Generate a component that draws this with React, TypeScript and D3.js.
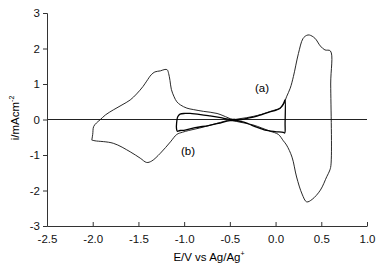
import React, { useEffect, useRef } from 'react';
import * as d3 from 'd3';

// curve (a): wide sweep, -2.0 V .. +0.6 V (closed loop, upper branch then lower)
const curveA_E = [
  -2.01, -2.0, -1.99, -1.96, -1.92, -1.86, -1.775, -1.68, -1.59, -1.52, -1.45, -1.41, -1.36, -1.32, -1.26, -1.21,
  -1.185, -1.17, -1.155, -1.14, -1.11, -1.08, -1.04, -0.97, -0.9, -0.79, -0.64, -0.52, -0.47,
  -0.4, -0.32, -0.24, -0.16, -0.1, -0.03, 0.02, 0.06, 0.09, 0.12, 0.16, 0.195, 0.25, 0.3, 0.34, 0.37,
  0.43, 0.49, 0.54, 0.6, 0.603, 0.605,
  0.59, 0.56, 0.49, 0.4, 0.34, 0.29, 0.23, 0.18, 0.12, 0.085, 0.03, -0.06, -0.15, -0.25, -0.4, -0.5,
  -0.6, -0.7, -0.83, -0.95, -1.02, -1.08, -1.15, -1.26, -1.355, -1.41, -1.48, -1.59, -1.775, -1.975, -2.01,
];
const curveA_I = [
  -0.58, -0.42, -0.2, -0.1, -0.01, 0.13, 0.27, 0.41, 0.55, 0.72, 0.93, 1.08, 1.26, 1.34, 1.37, 1.41,
  1.4, 1.3, 1.1, 0.85, 0.64, 0.5, 0.41, 0.32, 0.28, 0.23, 0.17, 0.05, 0.0,
  0.02, 0.05, 0.09, 0.14, 0.19, 0.25, 0.29, 0.34, 0.44, 0.64, 0.88, 1.21, 1.86, 2.28, 2.37, 2.38,
  2.29, 2.07, 1.96, 1.93, 1.0, -1.3,
  -1.45, -1.61, -1.99, -2.25, -2.32, -2.1, -1.62, -1.06, -0.72, -0.6, -0.42, -0.33, -0.24, -0.15, -0.07, -0.02,
  -0.08, -0.15, -0.24, -0.31, -0.36, -0.42, -0.63, -0.95, -1.17, -1.21, -1.09, -0.91, -0.67, -0.6, -0.58,
];

// curve (b): narrow sweep, -1.1 V .. +0.1 V
const curveB_E = [
  -1.085, -1.07, -1.045, -0.99, -0.935, -0.82, -0.717, -0.6, -0.516, -0.45, -0.37, -0.3, -0.224, -0.15, -0.078,
  0.013, 0.05, 0.085, 0.098, 0.104, 0.104,
  0.1, 0.085, -0.006, -0.115, -0.17, -0.224, -0.3, -0.37, -0.498, -0.626, -0.735, -0.88, -0.99, -1.045, -1.075, -1.085,
];
const curveB_I = [
  -0.2, 0.08, 0.15, 0.17, 0.17, 0.14, 0.1, 0.05, 0.01, 0.0, 0.0, 0.04, 0.08, 0.14, 0.2,
  0.27, 0.32, 0.44, 0.52, 0.55, -0.1,
  -0.38, -0.36, -0.34, -0.3, -0.25, -0.2, -0.12, -0.06, -0.03, -0.11, -0.17, -0.23, -0.3, -0.31, -0.33, -0.2,
];

const xTicks = [-2.5, -2.0, -1.5, -1.0, -0.5, 0.0, 0.5, 1.0];
const yTicks = [-3, -2, -1, 0, 1, 2, 3];

const FONT = '"Liberation Sans", Arial, sans-serif';

export default function App() {
  const ref = useRef<SVGSVGElement>(null);

  useEffect(() => {
    const svg = d3.select(ref.current);
    svg.selectAll('*').remove();

    const x = d3.scaleLinear().domain([-2.5, 1.0]).range([47, 367]);
    const y = d3.scaleLinear().domain([-3, 3]).range([226, 13]);

    // zero line across the plot
    svg.append('line')
      .attr('x1', x(-2.5)).attr('x2', x(1.0))
      .attr('y1', y(0)).attr('y2', y(0))
      .attr('stroke', '#222').attr('stroke-width', 1);

    const line = d3.line<[number, number]>()
      .x(d => x(d[0]))
      .y(d => y(d[1]))
      .curve(d3.curveCatmullRom.alpha(0.5));

    const ptsA = curveA_E.map((e, i) => [e, curveA_I[i]] as [number, number]);
    const ptsB = curveB_E.map((e, i) => [e, curveB_I[i]] as [number, number]);

    svg.append('path')
      .attr('d', line(ptsA))
      .attr('fill', 'none')
      .attr('stroke', '#111')
      .attr('stroke-width', 0.9);

    svg.append('path')
      .attr('d', line(ptsB))
      .attr('fill', 'none')
      .attr('stroke', '#000')
      .attr('stroke-width', 1.3);

    // axes
    const yAxis = d3.axisLeft(y)
      .tickValues(yTicks)
      .tickSize(4)
      .tickPadding(3)
      .tickFormat(d => String(d));
    const gy = svg.append('g').attr('transform', `translate(${x(-2.5)},0)`).call(yAxis);

    const xAxis = d3.axisBottom(x)
      .tickValues(xTicks)
      .tickSizeInner(-4)
      .tickSizeOuter(0)
      .tickPadding(9)
      .tickFormat(d => (d as number).toFixed(1));
    const gx = svg.append('g').attr('transform', `translate(0,${y(-3)})`).call(xAxis);

    [gx, gy].forEach(g => {
      g.select('.domain').attr('stroke', '#333');
      g.selectAll('.tick line').attr('stroke', '#333');
      g.selectAll('.tick text')
        .attr('fill', '#111')
        .style('font-family', FONT)
        .style('font-size', '11.5px');
    });

    // curve labels
    svg.append('text')
      .attr('x', 262).attr('y', 92)
      .attr('text-anchor', 'middle')
      .style('font-family', FONT).style('font-size', '11.5px')
      .text('(a)');
    svg.append('text')
      .attr('x', 188).attr('y', 155)
      .attr('text-anchor', 'middle')
      .style('font-family', FONT).style('font-size', '11.5px')
      .text('(b)');

    // x axis title
    const xt = svg.append('text')
      .attr('x', 209).attr('y', 261)
      .attr('text-anchor', 'middle')
      .style('font-family', FONT).style('font-size', '11.5px');
    xt.append('tspan').text('E/V vs Ag/Ag');
    xt.append('tspan').attr('dy', -5).style('font-size', '7px').text('+');

    // y axis title
    const yt = svg.append('text')
      .attr('transform', 'translate(19,118) rotate(-90)')
      .attr('text-anchor', 'middle')
      .style('font-family', FONT).style('font-size', '11.5px');
    yt.append('tspan').text('i/mAcm');
    yt.append('tspan').attr('dy', -5).style('font-size', '7px').text('-2');
  }, []);

  return (
    <svg
      ref={ref}
      width={378}
      height={274}
      style={{ position: 'absolute', left: 0, top: 0, background: '#fff' }}
    />
  );
}
